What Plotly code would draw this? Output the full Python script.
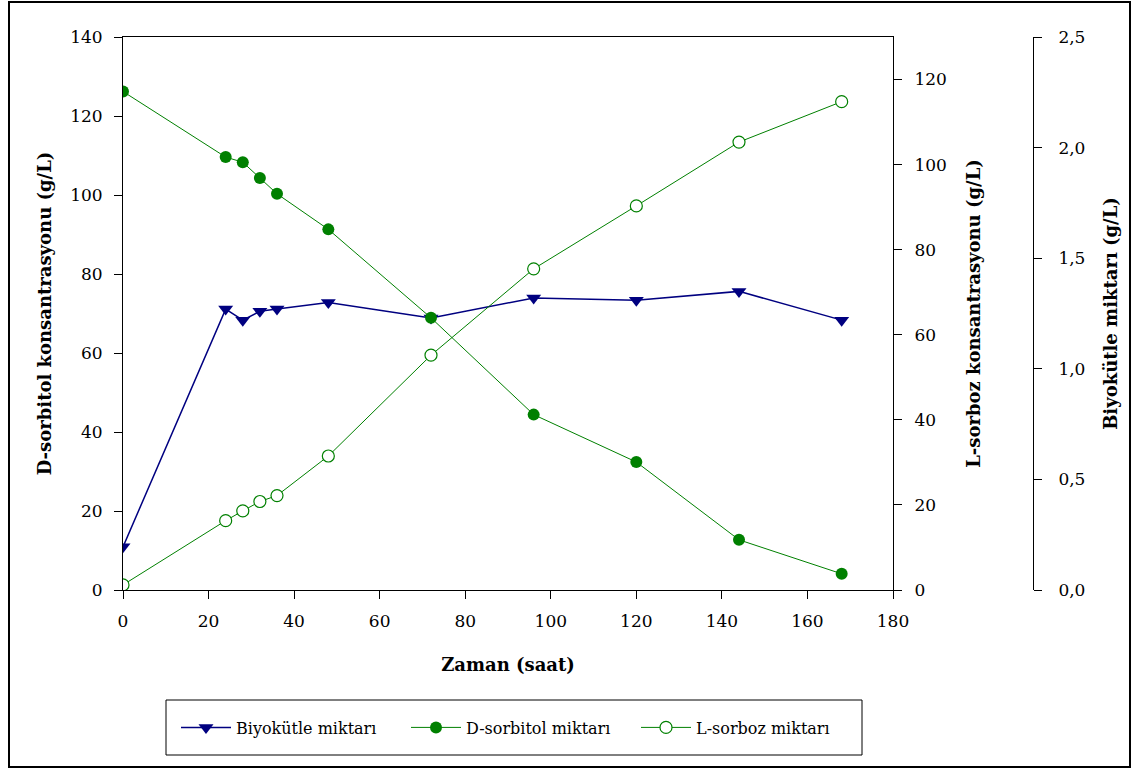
import plotly.graph_objects as go

# Sampling times (h)
zaman = [0, 24, 28, 32, 36, 48, 72, 96, 120, 144, 168]
# Biomass (g/L)
biyokutle = [0.195, 1.27, 1.22, 1.26, 1.27, 1.30, 1.23, 1.32, 1.31, 1.35, 1.22]
# D-sorbitol concentration (g/L)
d_sorbitol = [126.2, 109.6, 108.3, 104.3, 100.3, 91.3, 68.9, 44.4, 32.4, 12.7, 4.1]
# L-sorbose concentration (g/L)
l_sorboz = [1.2, 16.3, 18.6, 20.8, 22.2, 31.5, 55.2, 75.5, 90.3, 105.3, 114.8]

x_ticks = list(range(0, 181, 20))
sorbitol_ticks = list(range(0, 141, 20))
sorboz_ticks = list(range(0, 121, 20))
biyokutle_ticks = [0.0, 0.5, 1.0, 1.5, 2.0, 2.5]

FONT = "DejaVu Serif"
NAVY = "#000080"
GREEN = "#008000"

fig = go.Figure()

fig.add_trace(go.Scatter(
    x=zaman, y=biyokutle, name="Biyokütle miktarı", yaxis="y",
    mode="lines+markers",
    line=dict(color=NAVY, width=1.5),
    marker=dict(symbol="triangle-down", size=13, color=NAVY),
))
fig.add_trace(go.Scatter(
    x=zaman, y=d_sorbitol, name="D-sorbitol miktarı", yaxis="y2",
    mode="lines+markers",
    line=dict(color=GREEN, width=1),
    marker=dict(symbol="circle", size=12, color=GREEN),
))
fig.add_trace(go.Scatter(
    x=zaman, y=l_sorboz, name="L-sorboz miktarı", yaxis="y3",
    mode="lines+markers",
    line=dict(color=GREEN, width=1),
    marker=dict(symbol="circle", size=12, color="white",
                line=dict(color=GREEN, width=1.2)),
))

tick_font = dict(family=FONT, size=17, color="black")
title_font = dict(family=FONT, size=18, color="black")
axis_common = dict(showgrid=False, zeroline=False, showline=True,
                   linecolor="black", linewidth=1, ticks="outside",
                   ticklen=8, tickwidth=1, tickcolor="black",
                   tickfont=tick_font)

fig.update_layout(
    width=1132, height=769,
    margin=dict(l=123, r=99, t=37, b=179),
    paper_bgcolor="white", plot_bgcolor="white",
    separators=",.",
    font=dict(family=FONT, color="black"),
    xaxis=dict(domain=[0, 770 / 910], range=[0, 180], tickvals=x_ticks,
               anchor="y", mirror=True, ticklabelstandoff=8,
               title=dict(text="<b>Zaman (saat)</b>", font=title_font, standoff=27),
               **axis_common),
    yaxis=dict(range=[0, 2.5], tickvals=biyokutle_ticks, tickformat=".1f",
               side="right", anchor="free", position=1, ticklabelstandoff=13,
               title=dict(text="<b>Biyokütle miktarı (g/L)</b>", font=title_font, standoff=19),
               **axis_common),
    yaxis2=dict(range=[0, 140], tickvals=sorbitol_ticks, side="left",
                overlaying="y", anchor="x", ticklabelstandoff=8,
                title=dict(text="<b>D-sorbitol konsantrasyonu (g/L)</b>", font=title_font, standoff=13),
                **axis_common),
    yaxis3=dict(range=[0, 130], tickvals=sorboz_ticks, side="right",
                overlaying="y", anchor="x", ticklabelstandoff=9,
                title=dict(text="<b>L-sorboz konsantrasyonu (g/L)</b>", font=title_font, standoff=21),
                **axis_common),
    legend=dict(orientation="h", x=(176 - 123) / 910, y=(590 - 727.5) / 553,
                xanchor="left", yanchor="middle",
                borderwidth=0, bgcolor="rgba(0,0,0,0)",
                font=dict(family=FONT, size=16, color="black"),
                itemwidth=50, entrywidth=165, traceorder="normal"),
    showlegend=True,
)

# Legend frame
fig.add_shape(type="rect", xref="paper", yref="paper",
              x0=(166 - 123) / 910, x1=(862 - 123) / 910,
              y0=(590 - 755) / 553, y1=(590 - 700) / 553,
              line=dict(color="black", width=1), fillcolor="white",
              layer="below")

# Outer frame around the whole chart
fig.add_shape(type="rect", xref="paper", yref="paper",
              x0=(9 - 123) / 910, x1=(1130 - 123) / 910,
              y0=(590 - 767) / 553, y1=(590 - 2) / 553,
              line=dict(color="black", width=2), fillcolor="rgba(0,0,0,0)",
              layer="below")

fig.write_html("out.html")
